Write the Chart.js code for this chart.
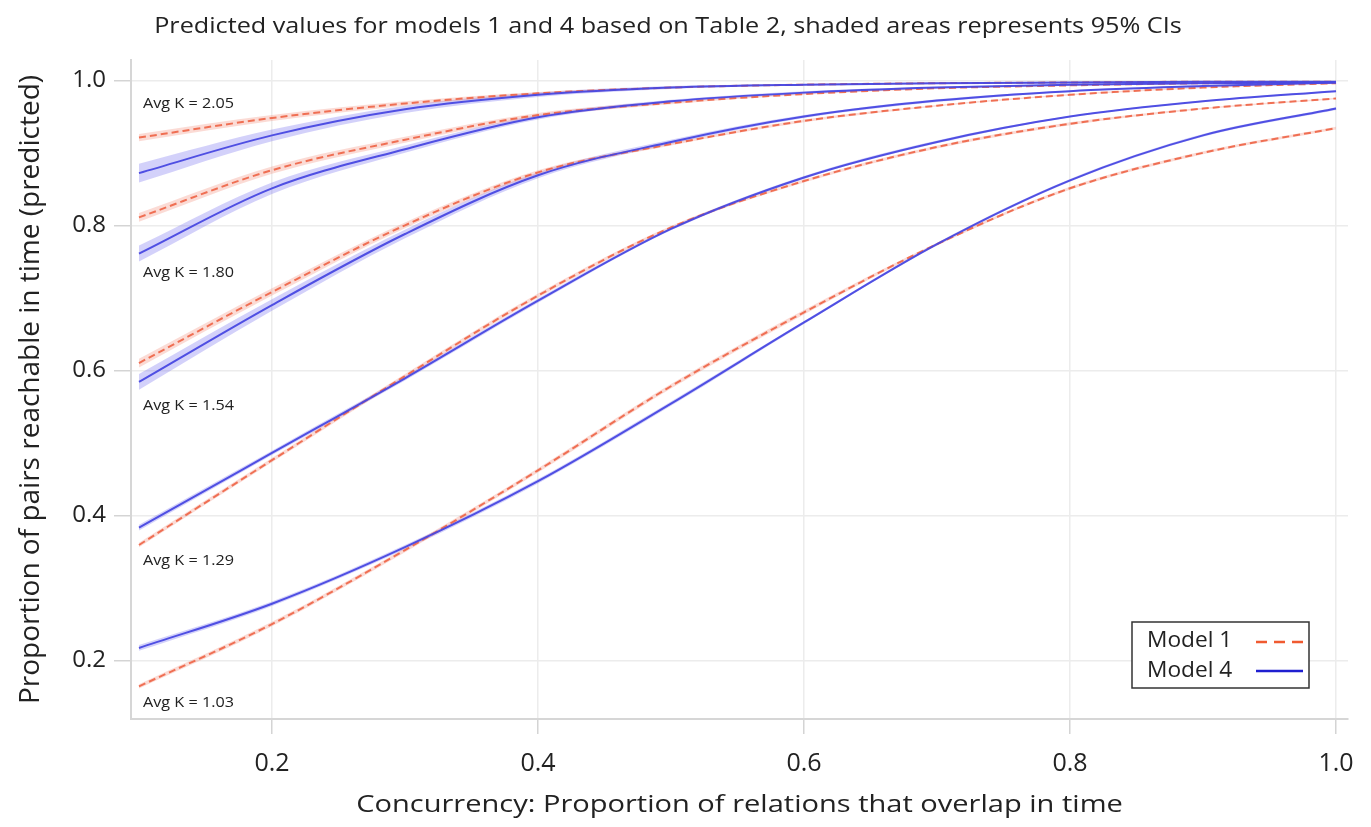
<!DOCTYPE html>
<html>
<head>
<meta charset="utf-8">
<script src="https://cdn.jsdelivr.net/npm/chart.js@4.4.1/dist/chart.umd.min.js"></script>
<style>
  html, body { margin: 0; padding: 0; background: #fff; }
  #wrap { width: 1371px; height: 827px; }
</style>
</head>
<body>
<div id="wrap"><canvas id="chart"></canvas></div>
<script>
/* predicted reachability, models 1 and 4, five levels of average degree */

const xVals = [0.1, 0.2, 0.3, 0.4, 0.5, 0.6, 0.7, 0.8, 0.9, 1.0];
const xTicks = [0.2, 0.4, 0.6, 0.8, 1.0];
const yTicks = [0.2, 0.4, 0.6, 0.8, 1.0];
const kLevels = ['1.03', '1.29', '1.54', '1.80', '2.05'];

// Model 1 (red dashed)
const m1_k103 = [0.164, 0.250, 0.352, 0.462, 0.578, 0.680, 0.774, 0.851, 0.900, 0.934];
const m1_k129 = [0.359, 0.476, 0.592, 0.703, 0.797, 0.861, 0.908, 0.940, 0.961, 0.975];
const m1_k154 = [0.610, 0.708, 0.800, 0.873, 0.912, 0.944, 0.965, 0.980, 0.990, 0.996];
const m1_k180 = [0.811, 0.876, 0.918, 0.952, 0.969, 0.981, 0.989, 0.993, 0.996, 0.997];
const m1_k205 = [0.921, 0.948, 0.968, 0.982, 0.990, 0.994, 0.996, 0.997, 0.998, 0.998];

// Model 4 (blue solid)
const m4_k103 = [0.217, 0.278, 0.356, 0.447, 0.554, 0.666, 0.774, 0.862, 0.924, 0.961];
const m4_k129 = [0.383, 0.486, 0.589, 0.696, 0.795, 0.866, 0.915, 0.950, 0.971, 0.985];
const m4_k154 = [0.584, 0.690, 0.788, 0.869, 0.915, 0.950, 0.972, 0.985, 0.992, 0.997];
const m4_k180 = [0.761, 0.851, 0.905, 0.949, 0.971, 0.983, 0.990, 0.994, 0.996, 0.997];
const m4_k205 = [0.872, 0.924, 0.960, 0.980, 0.990, 0.994, 0.996, 0.997, 0.998, 0.998];

// 95% CI half widths
const ci1_k103 = [0.003, 0.003, 0.003, 0.003, 0.003, 0.003, 0.002, 0.002, 0.002, 0.002];
const ci1_k129 = [0.003, 0.003, 0.003, 0.003, 0.002, 0.002, 0.002, 0.002, 0.001, 0.001];
const ci1_k154 = [0.006, 0.005, 0.004, 0.003, 0.002, 0.002, 0.001, 0.001, 0.001, 0.001];
const ci1_k180 = [0.006, 0.005, 0.004, 0.003, 0.002, 0.001, 0.001, 0.001, 0.001, 0.001];
const ci1_k205 = [0.005, 0.004, 0.003, 0.002, 0.001, 0.001, 0.001, 0.001, 0.001, 0.001];
const ci4_k103 = [0.004, 0.003, 0.003, 0.003, 0.003, 0.002, 0.002, 0.002, 0.002, 0.002];
const ci4_k129 = [0.004, 0.003, 0.003, 0.003, 0.002, 0.002, 0.002, 0.001, 0.001, 0.001];
const ci4_k154 = [0.011, 0.008, 0.006, 0.004, 0.003, 0.002, 0.002, 0.001, 0.001, 0.001];
const ci4_k180 = [0.011, 0.008, 0.005, 0.003, 0.002, 0.002, 0.001, 0.001, 0.001, 0.001];
const ci4_k205 = [0.013, 0.008, 0.005, 0.003, 0.002, 0.001, 0.001, 0.001, 0.001, 0.001];

const model1 = [m1_k103, m1_k129, m1_k154, m1_k180, m1_k205];
const model4 = [m4_k103, m4_k129, m4_k154, m4_k180, m4_k205];
const ci1 = [ci1_k103, ci1_k129, ci1_k154, ci1_k180, ci1_k205];
const ci4 = [ci4_k103, ci4_k129, ci4_k154, ci4_k180, ci4_k205];

const RED = 'rgba(238, 100, 70, 0.9)';
const BLUE = 'rgba(72, 72, 225, 0.95)';
const RED_BAND = 'rgba(240, 125, 105, 0.28)';
const BLUE_BAND = 'rgba(120, 115, 240, 0.33)';
const FONT = '"Open Sans", "Noto Sans", sans-serif';

const pts = (ys, off, sign) => xVals.map((x, i) => ({x, y: ys[i] + (off ? sign * off[i] : 0)}));

const datasets = [];
function addBand(mid, half, color) {
  const common = {pointRadius: 0, borderWidth: 0, cubicInterpolationMode: 'monotone', order: 3};
  datasets.push({...common, data: pts(mid, half, -1), fill: false});
  datasets.push({...common, data: pts(mid, half, 1), fill: '-1', backgroundColor: color});
}
kLevels.forEach((k, i) => {
  addBand(model1[i], ci1[i], RED_BAND);
  addBand(model4[i], ci4[i], BLUE_BAND);
});
kLevels.forEach((k, i) => {
  datasets.push({
    label: 'Model 1, K ' + k, data: pts(model1[i]), borderColor: RED, borderWidth: 2,
    borderDash: [7, 4], pointRadius: 0, fill: false, cubicInterpolationMode: 'monotone', order: 2,
  });
  datasets.push({
    label: 'Model 4, K ' + k, data: pts(model4[i]), borderColor: BLUE, borderWidth: 2,
    pointRadius: 0, fill: false, cubicInterpolationMode: 'monotone', order: 1,
  });
});

// where the "Avg K" notes sit (data coords of their centre-left)
const kNotes = [
  {text: 'Avg K = 2.05', x: 0.103, y: 0.968},
  {text: 'Avg K = 1.80', x: 0.103, y: 0.734},
  {text: 'Avg K = 1.54', x: 0.103, y: 0.551},
  {text: 'Avg K = 1.29', x: 0.103, y: 0.337},
  {text: 'Avg K = 1.03', x: 0.103, y: 0.141},
];

// the source figure's type is wide for its height, so text is stretched sideways
function wideText(ctx, text, x, y, sx, align) {
  ctx.save();
  ctx.translate(x, y);
  ctx.scale(sx, 1);
  ctx.textAlign = align;
  ctx.fillText(text, 0, 0);
  ctx.restore();
}

const decor = {
  id: 'decor',
  afterDraw(chart) {
    const {ctx, chartArea, scales: {x, y}} = chart;
    ctx.save();
    ctx.fillStyle = '#222';
    ctx.textBaseline = 'middle';

    ctx.font = '21px ' + FONT;
    wideText(ctx, 'Predicted values for models 1 and 4 based on Table 2, shaded areas represents 95% CIs', 668, 27, 1.2, 'center');

    ctx.font = '24px ' + FONT;
    wideText(ctx, 'Concurrency: Proportion of relations that overlap in time', (chartArea.left + chartArea.right) / 2, 805, 1.21, 'center');

    ctx.font = '15px ' + FONT;
    kNotes.forEach(n => wideText(ctx, n.text, x.getPixelForValue(n.x), y.getPixelForValue(n.y), 1.08, 'left'));

    // legend
    const bx = 1132, by = 622, bw = 177, bh = 66;
    ctx.fillStyle = '#fff';
    ctx.fillRect(bx, by, bw, bh);
    ctx.strokeStyle = '#333';
    ctx.lineWidth = 1.5;
    ctx.strokeRect(bx, by, bw, bh);
    ctx.fillStyle = '#222';
    ctx.font = '21px ' + FONT;
    wideText(ctx, 'Model 1', bx + 15, by + 19, 1.08, 'left');
    wideText(ctx, 'Model 4', bx + 15, by + 49, 1.08, 'left');
    ctx.lineWidth = 2.5;
    ctx.strokeStyle = '#f05a30';
    ctx.setLineDash([11, 7]);
    ctx.beginPath(); ctx.moveTo(bx + 124, by + 20); ctx.lineTo(bx + 171, by + 20); ctx.stroke();
    ctx.setLineDash([]);
    ctx.strokeStyle = '#1f1fd0';
    ctx.beginPath(); ctx.moveTo(bx + 124, by + 49); ctx.lineTo(bx + 171, by + 49); ctx.stroke();
    ctx.restore();
  },
};

new Chart(document.getElementById('chart'), {
  type: 'line',
  data: {datasets},
  plugins: [decor],
  options: {
    responsive: true,
    maintainAspectRatio: false,
    animation: false,
    layout: {padding: {top: 60, right: 23, left: 0, bottom: 0}},
    plugins: {legend: {display: false}, tooltip: {enabled: false}, title: {display: false}},
    scales: {
      x: {
        type: 'linear', min: 0.094, max: 1.009,
        afterBuildTicks: s => { s.ticks = xTicks.map(v => ({value: v})); },
        afterFit: s => { s.height = 108; },
        ticks: {color: '#222', font: {family: FONT, size: 25}, padding: 15, callback: v => v.toFixed(1)},
        grid: {color: '#ececec', lineWidth: 1.5, tickLength: 15, tickColor: '#d4d4d4'},
        border: {color: '#d6d6d6', width: 2},
      },
      y: {
        type: 'linear', min: 0.119, max: 1.028,
        afterBuildTicks: s => { s.ticks = yTicks.map(v => ({value: v})); },
        afterFit: s => { s.width = 131; },
        ticks: {color: '#222', font: {family: FONT, size: 24}, padding: 8, callback: v => v.toFixed(1)},
        grid: {color: '#ececec', lineWidth: 1.5, tickLength: 17, tickColor: '#d4d4d4'},
        border: {color: '#d6d6d6', width: 2},
        title: {display: true, text: 'Proportion of pairs reachable in time (predicted)',
                color: '#222', font: {family: FONT, size: 28}, padding: {top: 14, bottom: 0}},
      },
    },
  },
});
</script>
</body>
</html>
